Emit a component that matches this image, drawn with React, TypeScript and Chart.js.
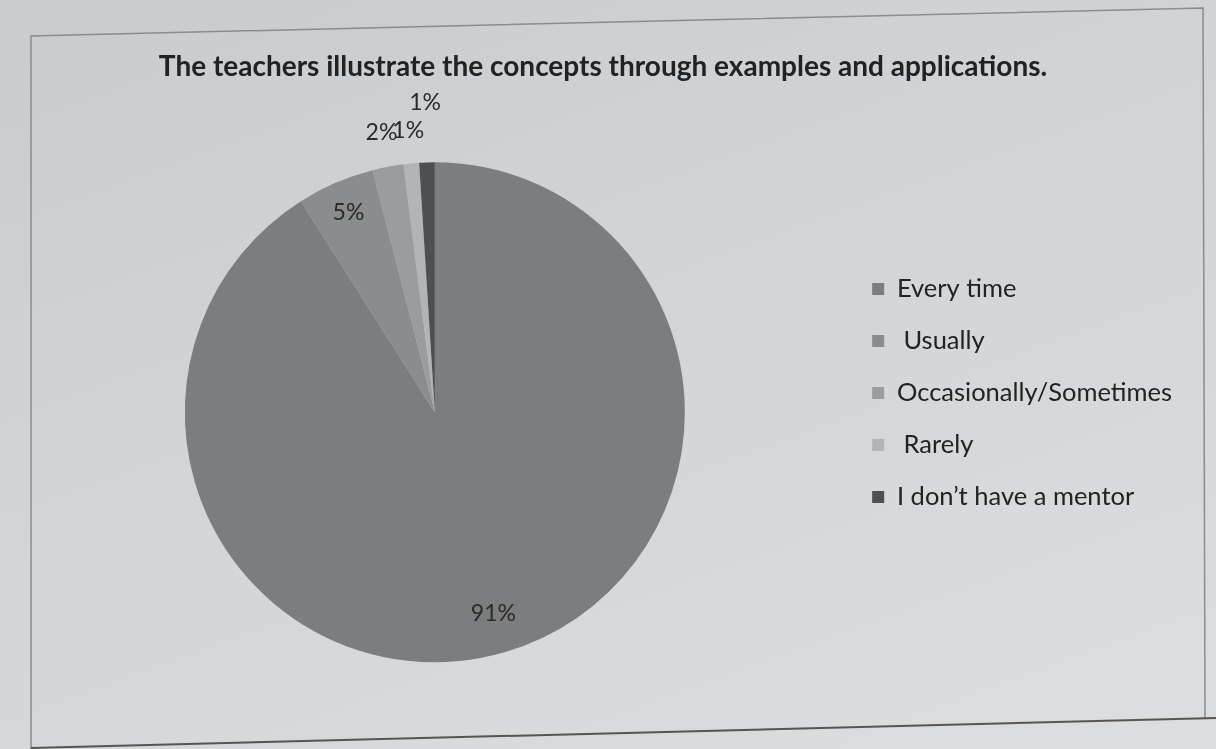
import React, { useEffect, useRef } from "react";
import { Chart, registerables } from "chart.js";

Chart.register(...registerables);

const titleText = "The teachers illustrate the concepts through examples and applications.";
const categories = ["Every time", " Usually", "Occasionally/Sometimes", " Rarely", "I don\u2019t have a mentor"];
const values = [91, 5, 2, 1, 1];
const sliceColors = ["#7b7d7e", "#8a8c8d", "#9a9c9d", "#b2b4b5", "#4d4f50"];

// styling: distance of each percentage label from the centre, as a fraction of the radius
const labelDistance = [0.84, 0.87, 1.14, 1.13, 1.24];

const percentLabels = {
  id: "percentLabels",
  afterDatasetsDraw(chart: any) {
    const meta = chart.getDatasetMeta(0);
    const ctx = chart.ctx;
    ctx.save();
    ctx.font = "23px Lato, 'Noto Sans', sans-serif";
    ctx.fillStyle = "#2a2a2a";
    ctx.textAlign = "center";
    ctx.textBaseline = "middle";
    meta.data.forEach((arc: any, i: number) => {
      const p = arc.getProps(["x", "y", "startAngle", "endAngle", "outerRadius"], true);
      const mid = (p.startAngle + p.endAngle) / 2;
      const r = p.outerRadius * labelDistance[i];
      ctx.fillText(values[i] + "%", p.x + Math.cos(mid) * r, p.y + Math.sin(mid) * r);
    });
    ctx.restore();
  },
};

export default function App() {
  const ref = useRef<HTMLCanvasElement>(null);
  useEffect(() => {
    if (!ref.current) return;
    const chart = new Chart(ref.current, {
      type: "pie",
      data: {
        labels: categories,
        datasets: [
          {
            data: values,
            backgroundColor: sliceColors,
            borderWidth: 0,
            radius: 250,
          },
        ],
      },
      options: {
        animation: false,
        responsive: true,
        maintainAspectRatio: false,
        layout: { padding: { top: 41, bottom: 18, left: 24, right: 34 } },
        plugins: {
          title: {
            display: true,
            text: titleText,
            color: "#222",
            font: { family: "Lato, 'Noto Sans', sans-serif", size: 28, weight: "bold" },
            padding: { top: 9, bottom: 10 },
          },
          legend: {
            position: "right",
            title: { display: true, text: " ", font: { size: 10 }, padding: 1 },
            labels: {
              boxWidth: 12,
              boxHeight: 12,
              padding: 26.5,
              color: "#222",
              font: { family: "Lato, 'Noto Sans', sans-serif", size: 25.5 },
            },
          },
          tooltip: { enabled: false },
        },
      },
      plugins: [percentLabels],
    });
    return () => chart.destroy();
  }, []);

  return (
    <div
      style={{
        position: "absolute",
        left: 0,
        top: 0,
        width: 1216,
        height: 749,
        background: "linear-gradient(160deg, #c9ccce 0%, #d3d6d8 50%, #dcdedf 100%)",
        overflow: "hidden",
      }}
    >
      <svg width={1216} height={749} style={{ position: "absolute", left: 0, top: 0 }}>
        <polyline
          points="31,749 31,36 1203,8 1205,719"
          fill="none"
          stroke="#8a8c8e"
          strokeWidth={1.5}
        />
        <line x1={31} y1={748} x2={1216} y2={718} stroke="#555" strokeWidth={2} />
      </svg>
      <canvas ref={ref} style={{ position: "absolute", left: 0, top: 0 }} />
    </div>
  );
}
